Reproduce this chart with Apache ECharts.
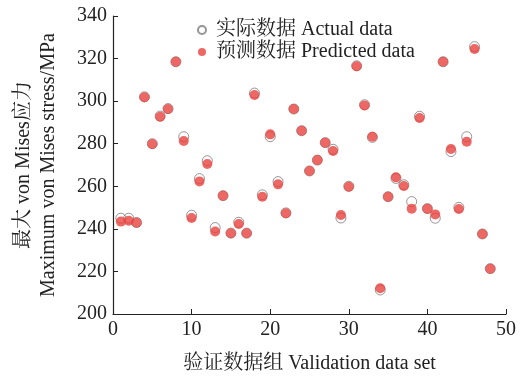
<!DOCTYPE html>
<html>
<head>
<meta charset="utf-8">
<script src="https://cdn.jsdelivr.net/npm/echarts@6/dist/echarts.min.js"></script>
<style>
  html, body { margin: 0; padding: 0; background: #fff; }
  #chart { width: 522px; height: 379px; }
</style>
</head>
<body>
<div id="chart"></div>
<script>
// 验证数据组编号
const groups = [1, 2, 3, 4, 5, 6, 7, 8, 9, 10, 11, 12, 13, 14, 15, 16, 17, 18, 19, 20, 21, 22, 23, 24,
  25, 26, 27, 28, 29, 30, 31, 32, 33, 34, 35, 36, 37, 38, 39, 40, 41, 42, 43, 44, 45, 46, 47, 48]
// 实际数据
const actualVals = [245.0, 245.0, 243.0, 302.0, 280.0, 293.0, 296.5, 318.5, 283.3, 246.4, 263.6, 272.0,
  240.6, 255.6, 238.0, 243.1, 238.0, 303.8, 256.0, 283.3, 262.2, 247.5, 296.3, 286.1,
  267.2, 272.3, 280.5, 277.4, 245.1, 260.0, 316.6, 298.3, 283.0, 211.3, 255.1, 263.7,
  260.7, 252.8, 292.9, 249.5, 245.0, 318.5, 276.3, 250.1, 283.3, 325.6, 237.6, 221.3]
// 预测数据
const predictedVals = [243.4, 243.8, 242.9, 301.8, 279.9, 292.7, 296.3, 318.5, 281.3, 245.1, 262.3, 270.5,
  238.8, 255.6, 237.9, 242.3, 237.9, 302.9, 255.1, 284.4, 260.9, 247.3, 296.3, 286.1,
  267.2, 272.3, 280.5, 276.6, 246.5, 259.8, 316.4, 298.0, 283.3, 212.1, 255.1, 264.2,
  260.1, 249.5, 292.1, 249.5, 246.8, 318.5, 277.5, 249.3, 280.9, 324.5, 237.6, 221.3]
// 坐标轴范围
const xRange = [0, 50, 10]
const yRange = [200, 340, 20]

const font = "'Liberation Serif', 'Noto Serif CJK SC', 'Noto Sans CJK SC', serif"
const pair = (vals) => groups.map((g, i) => [g, vals[i]])

const chart = echarts.init(document.getElementById('chart'))
const axisCommon = {
  splitLine: { show: false },
  axisLine: { lineStyle: { color: '#222', width: 1.2 } },
  axisTick: { inside: true, length: 5, lineStyle: { color: '#222' } },
  axisLabel: { color: '#222', fontFamily: font, fontSize: 20 },
  nameTextStyle: { color: '#222', fontFamily: font, fontSize: 20 },
}
chart.setOption({
  animation: false,
  grid: { left: 113, right: 16, top: 16, bottom: 65, outerBoundsMode: 'none' },
  legend: {
    orient: 'vertical',
    left: 192,
    top: 15,
    itemWidth: 18,
    itemHeight: 8,
    itemGap: 2,
    textStyle: { color: '#222', fontFamily: font, fontSize: 20 },
    data: ['实际数据 Actual data', '预测数据 Predicted data'],
  },
  xAxis: Object.assign({}, axisCommon, {
    type: 'value',
    min: xRange[0], max: xRange[1], interval: xRange[2],
    name: '验证数据组 Validation data set',
    nameLocation: 'middle',
    nameGap: 40,
    axisLabel: Object.assign({}, axisCommon.axisLabel, { margin: 6 }),
  }),
  yAxis: Object.assign({}, axisCommon, {
    type: 'value',
    min: yRange[0], max: yRange[1], interval: yRange[2],
    name: '最大 von Mises应力\nMaximum von Mises stress/MPa',
    nameLocation: 'middle',
    nameRotate: 90,
    nameGap: 52,
    nameTextStyle: Object.assign({}, axisCommon.nameTextStyle, { lineHeight: 25 }),
    axisLabel: Object.assign({}, axisCommon.axisLabel, { margin: 6 }),
  }),
  series: [
    {
      name: '实际数据 Actual data',
      type: 'scatter',
      symbolSize: 10,
      data: pair(actualVals),
      itemStyle: { color: 'rgba(255,255,255,0)', borderColor: '#7a7a7a', borderWidth: 1 },
    },
    {
      name: '预测数据 Predicted data',
      type: 'scatter',
      symbolSize: 10,
      data: pair(predictedVals),
      itemStyle: { color: '#e8423f' },
    },
  ],
})
</script>
</body>
</html>
